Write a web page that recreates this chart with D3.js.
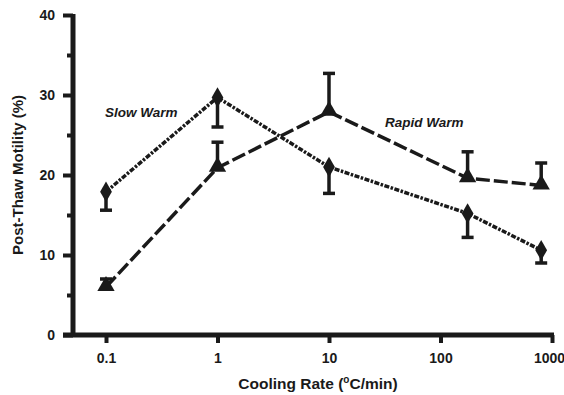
<!DOCTYPE html>
<html><head><meta charset="utf-8">
<script src="https://cdn.jsdelivr.net/npm/d3@7"></script>
<style>body{margin:0;background:#fff}svg{display:block}text{font-family:"Liberation Sans",Arial,sans-serif;font-weight:bold;fill:#1a1a1a}</style>
</head><body>
<script>
const xTicks = [0.1, 1, 10, 100, 1000];
const xTickLabels = ["0.1", "1", "10", "100", "1000"];
const yTicks = [0, 10, 20, 30, 40];
const yMinorTicks = [5, 15, 25, 35];

const coolingRates = [0.1, 1, 10, 175, 800];
const slowWarm = [17.9, 29.7, 21.0, 15.2, 10.6];
const slowWarmErrLow = [15.6, 26.0, 17.7, 12.2, 9.0];
const rapidWarm = [6.0, 20.9, 27.9, 19.6, 18.7];
const rapidWarmErrHigh = [7.0, 24.1, 32.7, 22.9, 21.5];

const W = 564, H = 395;
const svg = d3.select("body").append("svg").attr("width", W).attr("height", H);
const ink = "#1a1a1a";

const x = d3.scaleLog()
  .domain([0.1 * Math.pow(10, -(106 - 73) / 111.5), 0.1 * Math.pow(10, (552 - 106) / 111.5)])
  .range([73, 552]);
const y = d3.scaleLinear().domain([0, 40]).range([335, 15]);

// axes
const gx = svg.append("g").attr("transform", `translate(0,${y(0)})`);
gx.call(d3.axisBottom(x).tickValues(xTicks).tickFormat((d, i) => xTickLabels[i]).tickSize(8).tickPadding(10).tickSizeOuter(0));
const gy = svg.append("g").attr("transform", `translate(${x.range()[0]},0)`);
gy.call(d3.axisLeft(y).tickValues(yTicks).tickSize(10).tickPadding(8).tickSizeOuter(0));
const gy2 = svg.append("g").attr("transform", `translate(${x.range()[0]},0)`);
gy2.call(d3.axisLeft(y).tickValues(yMinorTicks).tickSize(6).tickFormat(""));
[gx, gy, gy2].forEach(g => {
  g.selectAll(".domain").remove();
  g.selectAll(".tick line").style("stroke", ink).style("stroke-width", "4px");
  g.selectAll(".tick text").style("font-size", "14px").style("font-weight", "bold").style("fill", ink);
});
gx.selectAll(".tick text").filter(d => d === 1000).attr("dx", -3);
// thick axis lines
svg.append("line").attr("x1", 63).attr("x2", 554).attr("y1", y(0)).attr("y2", y(0))
  .style("stroke", ink).style("stroke-width", "5px");
svg.append("line").attr("x1", x.range()[0]).attr("x2", x.range()[0]).attr("y1", y(40) - 1).attr("y2", y(0) + 2)
  .style("stroke", ink).style("stroke-width", "5px");

// error bars
function errBars(vals, ends, cls) {
  const g = svg.append("g").attr("class", cls);
  coolingRates.forEach((c, i) => {
    const xc = x(c);
    g.append("line").attr("x1", xc).attr("x2", xc).attr("y1", y(vals[i])).attr("y2", y(ends[i]))
      .attr("stroke", ink).attr("stroke-width", 3.5);
    g.append("line").attr("x1", xc - 6).attr("x2", xc + 6).attr("y1", y(ends[i])).attr("y2", y(ends[i]))
      .attr("stroke", ink).attr("stroke-width", 3.5);
  });
}
errBars(slowWarm, slowWarmErrLow, "err-slow");
errBars(rapidWarm, rapidWarmErrHigh, "err-rapid");

// lines
const line = d3.line().x((d, i) => x(coolingRates[i])).y(d => y(d));
svg.append("path").datum(slowWarm).attr("d", line).attr("fill", "none").attr("stroke", ink)
  .attr("stroke-width", 3.5).attr("stroke-dasharray", "5 1.5 2.5 1.5");
svg.append("path").datum(rapidWarm).attr("d", line).attr("fill", "none").attr("stroke", ink)
  .attr("stroke-width", 3.5).attr("stroke-dasharray", "14 4");

// markers
svg.append("g").selectAll("path").data(slowWarm).join("path")
  .attr("d", d3.symbol().type(d3.symbolDiamond).size(120))
  .attr("transform", (d, i) => `translate(${x(coolingRates[i])},${y(d)})`).attr("fill", ink);
svg.append("g").selectAll("path").data(rapidWarm).join("path")
  .attr("d", d3.symbol().type(d3.symbolTriangle).size(130))
  .attr("transform", (d, i) => `translate(${x(coolingRates[i])},${y(d) - 1})`).attr("fill", ink);

// series labels
svg.append("text").attr("x", 105).attr("y", 117).style("font-size", "13.5px").style("font-style", "italic").text("Slow Warm");
svg.append("text").attr("x", 385).attr("y", 127).style("font-size", "13.5px").style("font-style", "italic").text("Rapid Warm");

// axis titles
svg.append("text").attr("transform", `translate(23,${y(20)}) rotate(-90)`).attr("text-anchor", "middle")
  .style("font-size", "15px").text("Post-Thaw Motility (%)");
const xt = svg.append("text").attr("x", 318).attr("y", 389).attr("text-anchor", "middle").style("font-size", "15.5px");
xt.append("tspan").text("Cooling Rate  (");
xt.append("tspan").attr("dy", -6).style("font-size", "10px").text("o");
xt.append("tspan").attr("dy", 6).text("C/min)");
</script>
</body></html>
